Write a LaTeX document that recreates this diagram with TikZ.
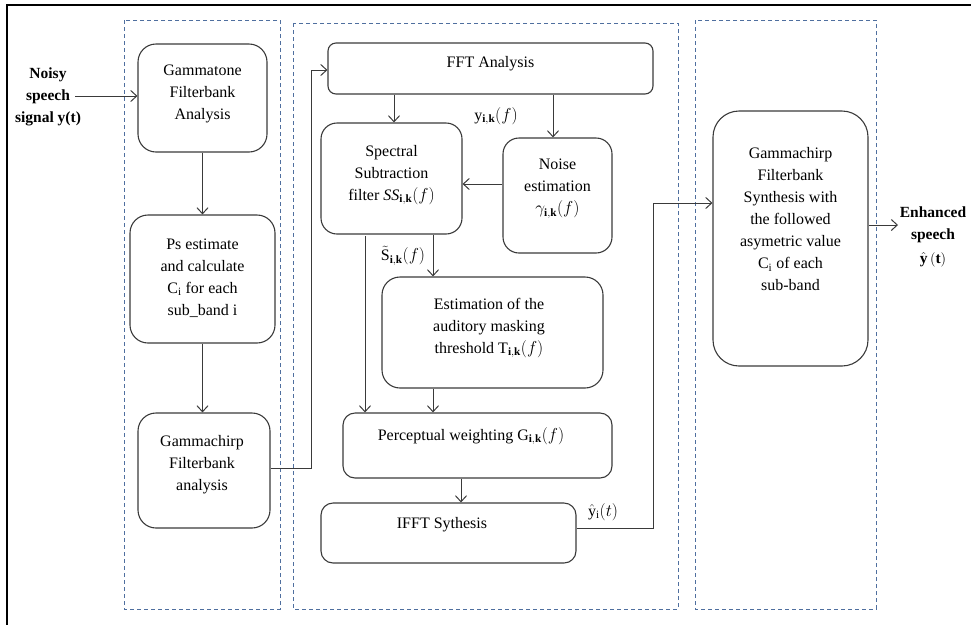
\documentclass[tikz,border=0pt]{standalone}
\usepackage{fontspec}
\setmainfont{Liberation Serif}
\usetikzlibrary{arrows.meta}
\definecolor{panelc}{HTML}{4F6F9F}
\definecolor{linec}{HTML}{3A3A3A}
\begin{document}
\begin{tikzpicture}[x=1pt,y=-1pt,
  box/.style={draw=linec, line width=1.1pt, rounded corners=14pt, inner sep=0pt},
  txt/.style={align=center, inner sep=0pt, font=\fontsize{16}{22}\selectfont, text=black},
  btxt/.style={txt, font=\fontsize{15.5}{22}\selectfont\bfseries},
  panel/.style={draw=panelc, line width=0.9pt, dash pattern=on 4pt off 3pt},
  arr/.style={draw=linec, line width=1pt, -{Straight Barb[length=6pt,width=11pt,line width=1pt]}},
  con/.style={draw=linec, line width=1pt}]
\useasboundingbox (0,0) rectangle (971,625);
% outer frame (top and left only)
\draw[line width=2pt] (971,5) -- (7,5) -- (7,625);
% panels
\draw[panel] (124,20) rectangle (280,609);
\draw[panel] (293,23) rectangle (678,609);
\draw[panel] (695,20) rectangle (876,609);
% boxes
\node[box, rounded corners=18pt, minimum width=129pt, minimum height=108pt] (gt) at (202.5,98) {};
\node[txt] (gtT) at (202.5,94) {Gammatone\\Filterbank\\Analysis};
\node[box, rounded corners=18pt, minimum width=145pt, minimum height=128pt] (ps) at (202.5,279) {};
\node[txt] (psT) at (202.5,278) {Ps estimate\\and calculate\\C$_{\mathrm{i}}$ for each\\sub\_band i};
\node[box, rounded corners=18pt, minimum width=132pt, minimum height=115pt] (gca) at (204,470.5) {};
\node[txt] (gcaT) at (202,465) {Gammachirp\\Filterbank\\analysis};
\node[box, rounded corners=8pt, minimum width=325pt, minimum height=51pt] (fft) at (490.5,68.5) {};
\node[txt] (fftT) at (490.5,64) {FFT Analysis};
\node[box, rounded corners=16pt, minimum width=141pt, minimum height=111pt] (ss) at (391.5,178.5) {};
\node[txt] (ssT) at (391.5,175) {Spectral\\Subtraction\\filter $\mathit{SS}_{\mathbf{i,k}}(f)$};
\node[box, rounded corners=16pt, minimum width=109pt, minimum height=115pt] (ne) at (557.5,195.5) {};
\node[txt] (neT) at (557.5,189) {Noise\\estimation\\$\gamma_{\mathbf{i,k}}(f)$};
\node[box, rounded corners=18pt, minimum width=221pt, minimum height=111pt] (est) at (492.5,332.5) {};
\node[txt] (estT) at (489,328) {Estimation of the\\auditory masking\\threshold $\mathrm{T}_{\mathbf{i,k}}(f)$};
\node[box, rounded corners=12pt, minimum width=269pt, minimum height=65pt] (pw) at (477.5,445.5) {};
\node[txt] (pwT) at (471,436) {Perceptual weighting $\mathrm{G}_{\mathbf{i,k}}(f)$};
\node[box, rounded corners=12pt, minimum width=255pt, minimum height=60pt] (ifft) at (448.5,533) {};
\node[txt] (ifftT) at (442,525) {IFFT Sythesis};
\node[box, rounded corners=26pt, minimum width=155pt, minimum height=255pt] (syn) at (790.5,238.5) {};
\node[txt] (synT) at (790.5,219) {Gammachirp\\Filterbank\\Synthesis with\\the followed\\asymetric value\\C$_{\mathrm{i}}$ of each\\sub-band};
% side texts
\node[btxt] (noisy) at (48,97) {Noisy\\speech\\signal y(t)};
\node[btxt] (enh) at (933,237) {Enhanced\\speech\\[2pt]$\hat{\mathbf{y}}\,(\mathbf{t})$};
\node[txt] (yik) at (496,116) {$\mathrm{y}_{\mathbf{i,k}}(f)$};
\node[txt] (stl) at (403,256) {$\tilde{\mathrm{S}}_{\mathbf{i,k}}(f)$};
\node[txt] (yhat) at (603,512) {$\hat{\mathrm{y}}_{\mathrm{i}}(t)$};
% connectors
\coordinate (nin) at (75,96);
\draw[arr] (nin) -- (nin -| gt.west);
\draw[arr] (gt.south) -- (ps.north);
\draw[arr] (ps.south) -- (ps.south |- gca.north);
\coordinate (k1) at (311,468);
\coordinate (g1) at (gca.east |- k1);
\coordinate (f1) at ([yshift=-1.5pt]fft.west);
\draw[arr] (g1) -- (k1) |- (f1);
\coordinate (f2) at (394,94);
\draw[arr] (f2 |- fft.south) -- (f2 |- ss.north);
\coordinate (f3) at (553,94);
\draw[arr] (f3 |- fft.south) -- (f3 |- ne.north);
\coordinate (n1) at ([yshift=11.5pt]ne.west);
\draw[arr] (n1) -- (n1 -| ss.east);
\coordinate (s1) at (365,236);
\draw[arr] (s1) -- (s1 |- pw.north);
\coordinate (s2) at (433,234);
\draw[arr] (s2 |- ss.south) -- (s2 |- est.north);
\draw[arr] (s2 |- est.south) -- (s2 |- pw.north);
\coordinate (p1) at (461,478);
\draw[arr] (p1 |- pw.south) -- (p1 |- ifft.north);
\coordinate (k2) at (653,528);
\coordinate (i1) at (ifft.east |- k2);
\coordinate (y1) at (713,203);
\draw[arr] (i1) -- (k2) |- (y1 -| syn.west);
\coordinate (o1) at (868,225);
\coordinate (out) at (898,225);
\draw[arr] (o1 -| syn.east) -- (out);
\end{tikzpicture}
\end{document}
